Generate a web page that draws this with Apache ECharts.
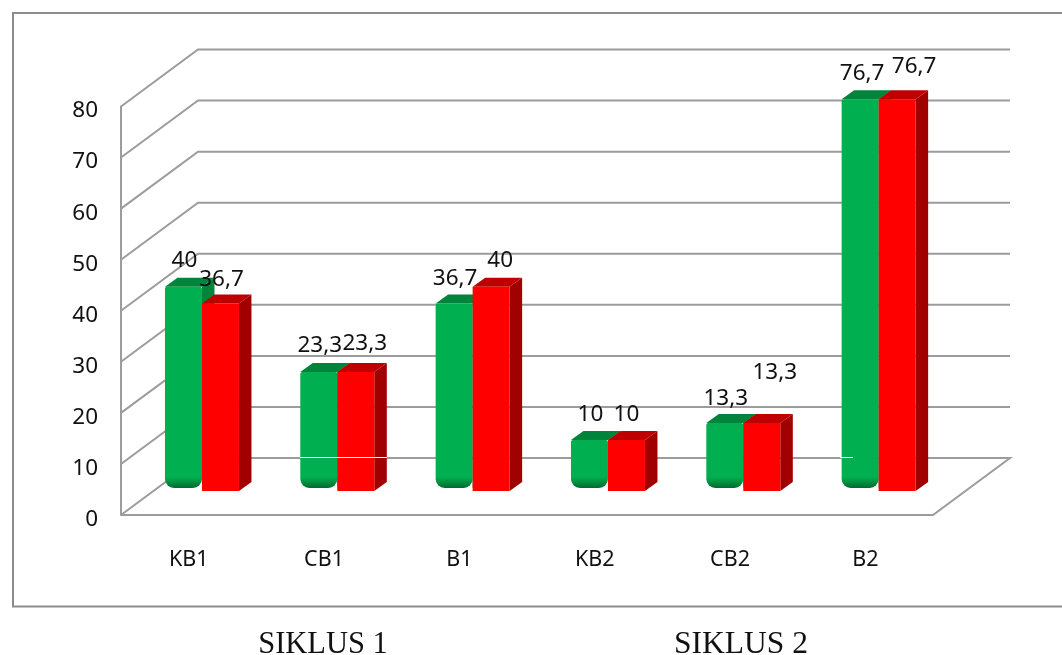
<!DOCTYPE html>
<html>
<head>
<meta charset="utf-8">
<style>html,body{margin:0;padding:0;background:#fff}#chart{width:1062px;height:655px}</style>
<script src="https://cdn.jsdelivr.net/npm/echarts@6/dist/echarts.min.js"></script>
</head>
<body>
<div id="chart"></div>
<script>
// Values per category, in percent
const categories = ['KB1', 'CB1', 'B1', 'KB2', 'CB2', 'B2'];
const greenValues = [40, 23.3, 36.7, 10, 13.3, 76.7];
const redValues = [36.7, 23.3, 40, 10, 13.3, 76.7];
const valueTicks = [0, 10, 20, 30, 40, 50, 60, 70, 80];
const cycleNames = ['SIKLUS 1', 'SIKLUS 2'];

// Box geometry of the pseudo-3D plot
const WALL = { dx: 77, dy: -57 };
const BAR = { width: 37, shift: 13.3, lift: 24, dx: 12.5, dy: -9 };
const GRID_COLOR = '#9c9c9c';
const LABEL_FONT = '"Noto Sans", sans-serif';

// Label nudges from the bar's top centre, kept apart from the values
const greenLabelNudge = [[1, -26], [1, -26], [1, -25], [1, -25], [1, -24], [2, -26]];
const redLabelNudge = [[1, -24], [9, -28], [9, -26], [0, -25], [13, -50], [17, -33]];

const chart = echarts.init(document.getElementById('chart'), null, { renderer: 'canvas' });

const fmt = v => String(v).replace('.', ',');

// Back wall, left wall and floor outline for one tick value
function renderWall(params, api) {
  const g = params.coordSys;
  const tick = api.value(0);
  const y = api.coord([0, tick])[1];
  const left = g.x, right = g.x + g.width;
  const style = { stroke: GRID_COLOR, lineWidth: 2, fill: 'none' };
  const points = [[left, y], [left + WALL.dx, y + WALL.dy], [right + WALL.dx, y + WALL.dy]];
  if (tick === 0) points.push([right, y], [left, y]);
  return { type: 'polyline', shape: { points }, style };
}

function faces(x, top, bottom, sideColor, topColor) {
  const w = BAR.width, dx = BAR.dx, dy = BAR.dy;
  return [
    { type: 'polygon', shape: { points: [[x + w, top], [x + w + dx, top + dy], [x + w + dx, bottom + dy], [x + w, bottom]] }, style: { fill: sideColor } },
    { type: 'polygon', shape: { points: [[x, top], [x + dx, top + dy], [x + w + dx, top + dy], [x + w, top]] }, style: { fill: topColor } }
  ];
}

function valueLabel(cx, top, value, nudge) {
  return {
    type: 'text', z2: 10,
    style: {
      text: fmt(value), x: cx + nudge[0], y: top + nudge[1],
      align: 'center', verticalAlign: 'middle',
      font: '22.5px ' + LABEL_FONT, fill: '#111'
    }
  };
}

// Green column: rounded foot that darkens toward the floor
function renderGreen(params, api) {
  const i = api.value(0), v = api.value(1);
  const c = api.coord([i, v]), base = api.coord([i, 0]);
  const x = c[0] + BAR.shift - BAR.width;
  const top = c[1] - BAR.lift;
  const bottom = base[1] - BAR.lift - 3;
  const h = bottom - top;
  return {
    type: 'group',
    children: faces(x, top, bottom, '#00833b', '#00833b').concat([
      {
        type: 'rect', shape: { x, y: top, width: BAR.width, height: h, r: [2, 2, 9, 9] },
        style: {
          fill: new echarts.graphic.LinearGradient(0, 0, 0, 1, [
            { offset: 0, color: '#00b050' },
            { offset: 1 - 11 / h, color: '#00b050' },
            { offset: 1, color: '#006b30' }
          ])
        }
      },
      valueLabel(x + BAR.width / 2, top, v, greenLabelNudge[i])
    ])
  };
}

// Red column: square foot, slightly lower than the green one
function renderRed(params, api) {
  const i = api.value(0), v = api.value(1);
  const c = api.coord([i, v]), base = api.coord([i, 0]);
  const x = c[0] + BAR.shift;
  const top = c[1] - BAR.lift;
  const bottom = base[1] - BAR.lift;
  return {
    type: 'group',
    children: faces(x, top, bottom, '#a00000', '#bf0000').concat([
      { type: 'rect', shape: { x, y: top, width: BAR.width, height: bottom - top }, style: { fill: '#ff0000' } },
      valueLabel(x + BAR.width / 2, top, v, redLabelNudge[i])
    ])
  };
}

chart.setOption({
  animation: false,
  backgroundColor: '#fff',
  grid: { left: 121, top: 106.5, width: 812, height: 408.5 },
  xAxis: {
    type: 'category', data: categories,
    axisLine: { show: false }, axisTick: { show: false },
    axisLabel: { fontFamily: LABEL_FONT, fontSize: 21.5, color: '#111', margin: 34 }
  },
  yAxis: {
    type: 'value', min: 0, max: 80, interval: 10,
    splitLine: { show: false }, axisTick: { show: false },
    axisLine: { show: true, lineStyle: { color: GRID_COLOR, width: 2 } },
    axisLabel: { fontFamily: LABEL_FONT, fontSize: 22.5, color: '#111', margin: 23, verticalAlign: 'top', lineHeight: 9 }
  },
  series: [
    { type: 'custom', name: 'wall', clip: false, z: 1, silent: true, renderItem: renderWall, encode: { y: 0 }, data: valueTicks.map(t => [t]) },
    { type: 'custom', name: 'Hijau', clip: false, z: 3, renderItem: renderGreen, encode: { x: 0, y: 1 }, data: greenValues.map((v, i) => [i, v]) },
    { type: 'custom', name: 'Merah', clip: false, z: 4, renderItem: renderRed, encode: { x: 0, y: 1 }, data: redValues.map((v, i) => [i, v]) }
  ],
  graphic: [
    { type: 'polyline', z: 0, shape: { points: [[1064, 13], [13, 13], [13, 606.5], [1064, 606.5]] }, style: { stroke: '#8c8c8c', lineWidth: 2, fill: 'none' } },
    { type: 'line', z: 5, shape: { x1: 300, y1: 457.5, x2: 387, y2: 457.5 }, style: { stroke: '#fff', lineWidth: 1 } },
    { type: 'line', z: 5, shape: { x1: 840, y1: 457.5, x2: 853, y2: 457.5 }, style: { stroke: '#fff', lineWidth: 1 } },
    { type: 'text', z: 5, style: { text: cycleNames[0], x: 323, y: 645, align: 'center', verticalAlign: 'middle', font: '30.5px "Liberation Serif", serif', fill: '#111' } },
    { type: 'text', z: 5, style: { text: cycleNames[1], x: 741, y: 645, align: 'center', verticalAlign: 'middle', font: '31.5px "Liberation Serif", serif', fill: '#111' } }
  ]
});
</script>
</body>
</html>
